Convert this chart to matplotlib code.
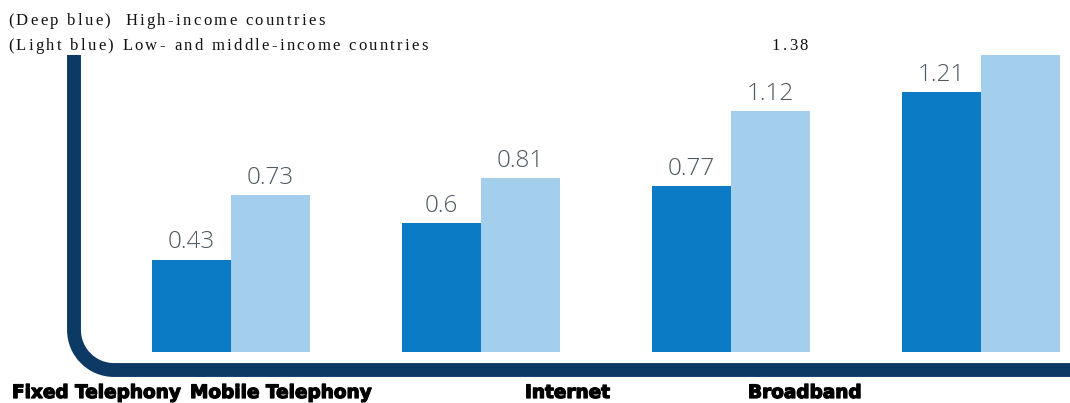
import matplotlib
matplotlib.use('Agg')
import matplotlib.pyplot as plt
import matplotlib.patheffects as pe
from matplotlib.font_manager import FontProperties
from matplotlib.path import Path
from matplotlib.patches import PathPatch

# DATA

categories = ['Fixed Telephony', 'Mobile Telephony', 'Internet', 'Broadband']
high_income = [0.43, 0.6, 0.77, 1.21]
low_middle_income = [0.73, 0.81, 1.12, 1.38]
legend_lines = ['(Deep blue)  High-income countries',
                '(Light blue) Low- and middle-income countries']

DEEP = '#0a7bc4'
LIGHT = '#a3ceec'
NAVY = '#0c3a64'
LABEL_GREY = '#4d5860'

W, H = 1070, 403


def fx(px):
    """ pixel x (from left) -> figure fraction """
    return px / W


def fy(py):
    """ pixel y (from top) -> figure fraction """
    return 1 - py / H


def spaced_text(fig, x_px, y_px, s, spacing, family, size, ha='left',
                **kw):
    """ Draw s one char at a time with extra letter spacing (pixels). """
    renderer = fig.canvas.get_renderer()
    prop = FontProperties(family=family, size=size)

    def width(t):
        return renderer.get_text_width_height_descent(t, prop,
                                                      ismath=False)[0]

    base = width('xx')
    advances = [width('x' + c + 'x') - base for c in s]
    total = sum(advances) + spacing * (len(s) - 1)
    x = x_px - total / 2 if ha == 'center' else x_px
    for c, adv in zip(s, advances):
        if c != ' ':
            fig.text(fx(x), fy(y_px), c, family=family, size=size,
                     va='baseline', ha='left', **kw)
        x += adv + spacing


fig = plt.figure(figsize=(W / 100, H / 100), dpi=100)

# axes: baseline at y=352 px, 215 px per unit, group spacing 250 px
ax = fig.add_axes([0, fy(352), 1, 344 / H])
ax.set_ylim(0, 1.6)
ax.set_xlim(-231 / 250, (W - 231) / 250)
ax.axis('off')

width = 79 / 250
xs = list(range(len(categories)))
bars_hi = ax.bar([x - width / 2 for x in xs], high_income, width=width,
                 color=DEEP, linewidth=0)
bars_lo = ax.bar([x + width / 2 for x in xs], low_middle_income, width=width,
                 color=LIGHT, linewidth=0)

# value labels above bars (the last light bar is labelled up in the legend)
label_font = dict(family='Open Sans', weight='light', size=17.5,
                  color=LABEL_GREY, ha='center', va='baseline')
for rect, val in zip(bars_hi, high_income):
    ax.annotate('{:g}'.format(val),
                (rect.get_x() + rect.get_width() / 2, rect.get_height()),
                xytext=(0, 8), textcoords='offset points', **label_font)
for rect, val in list(zip(bars_lo, low_middle_income))[:-1]:
    ax.annotate('{:g}'.format(val),
                (rect.get_x() + rect.get_width() / 2, rect.get_height()),
                xytext=(0, 8), textcoords='offset points', **label_font)

# rounded L-shaped axis line (cubic arc in the corner)
x0, y_top, y0, r = 74, 55, 370, 40
k = 0.5523 * r
verts = [(fx(x0), fy(y_top)), (fx(x0), fy(y0 - r)),
         (fx(x0), fy(y0 - r + k)), (fx(x0 + r - k), fy(y0)),
         (fx(x0 + r), fy(y0)),
         (fx(W + 10), fy(y0))]
codes = [Path.MOVETO, Path.LINETO, Path.CURVE4, Path.CURVE4, Path.CURVE4,
         Path.LINETO]
fig.patches.append(PathPatch(Path(verts, codes), transform=fig.transFigure,
                             fill=False, edgecolor=NAVY, linewidth=10,
                             capstyle='butt', joinstyle='round'))

# legend text (letter-spaced serif, top left)
serif = dict(spacing=2.3, family='Liberation Serif', size=12,
             color='#111111')
spaced_text(fig, 8, 25, legend_lines[0], **serif)
spaced_text(fig, 8, 50, legend_lines[1], **serif)
spaced_text(fig, 790, 50, '{:g}'.format(low_middle_income[-1]),
            ha='center', **serif)

# category labels under the axis (heavy, stroked to thicken)
cat_font = dict(family='DejaVu Sans', weight='bold', size=13.3,
                color='black', va='baseline',
                path_effects=[pe.withStroke(linewidth=0.9,
                                            foreground='black')])
for label, xpos in zip(categories, [12, 190, 525, 748]):
    fig.text(fx(xpos), fy(398), label, **cat_font)

fig.savefig('out.png', dpi=100)
